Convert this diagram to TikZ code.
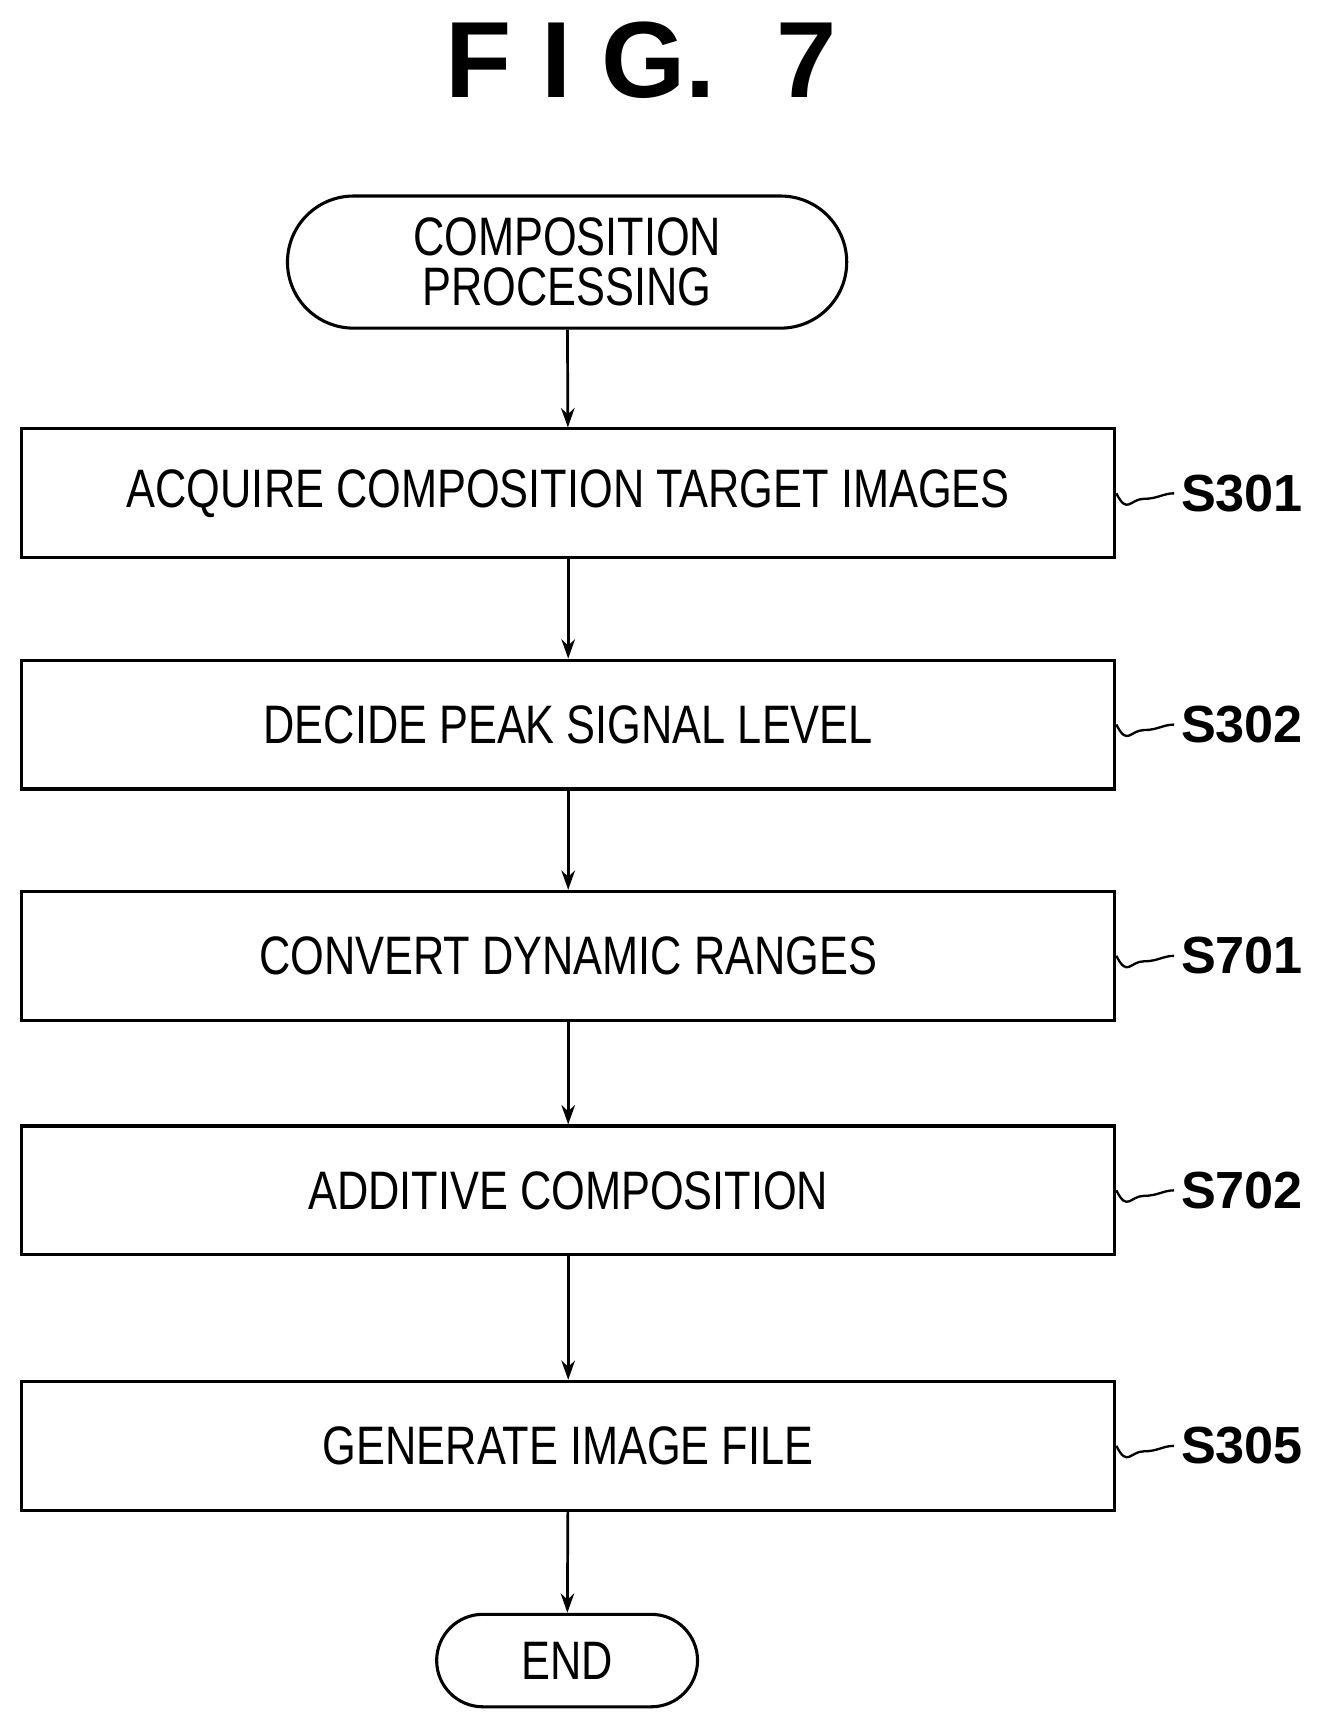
\documentclass[tikz,border=0pt]{standalone}
\usepackage{fontspec}
\setmainfont{Liberation Sans}
\newfontfamily\condfont[FakeStretch=0.8]{Liberation Sans}
\usetikzlibrary{positioning,arrows.meta,shapes.misc}

\begin{document}
\begin{tikzpicture}[
    x=0.02cm, y=-0.02cm,
    stepbox/.style={
    	draw, line width=1.6pt,
    	minimum width=19.86cm,
    	minimum height=2.34cm,
    	inner sep=2pt, align=center,
    	font=\condfont\fontsize{28}{32}\selectfont
    }, term/.style={
    	stepbox, rounded rectangle
    }, pil/.style={
    	-{Stealth[length=10pt,width=7pt]},
    	line width=1.4pt
    }, lbl/.style={
    	font=\bfseries\fontsize{27}{31}\selectfont, anchor=west
    }]
    \useasboundingbox (0,0) rectangle (1200,1562);

    \node[font=\bfseries\fontsize{56}{62}\selectfont] (title) at (582,55) {F I G.\ \ 7};

    %%% steps
    \node[term, minimum width=10.3cm, minimum height=2.4cm] (start) at (515,238) {COMPOSITION\\[-6pt]PROCESSING};
    \node[stepbox] (s301) at (516,448) {ACQUIRE COMPOSITION TARGET IMAGES};
    \node[stepbox] (s302) at (516,658) {DECIDE PEAK SIGNAL LEVEL};
    \node[stepbox] (s701) at (516,868) {CONVERT DYNAMIC RANGES};
    \node[stepbox] (s702) at (516,1081) {ADDITIVE COMPOSITION};
    \node[stepbox] (s305) at (516,1313) {GENERATE IMAGE FILE};
    \node[term, minimum width=4.88cm, minimum height=1.68cm] (end) at (515,1508) {END};

    %%% step labels
    \foreach \s/\t in {s301/S301, s302/S302, s701/S701, s702/S702, s305/S305}{
    	\node[lbl] (lab-\s) at ([xshift=1.05cm]\s.east) {\t};
    	\draw[line width=1.2pt] (\s.east) .. controls +(0.2cm,-0.4cm) and +(-0.25cm,0cm) .. ([xshift=0.5cm,yshift=-0.1cm]\s.east)
    		.. controls +(0.25cm,0cm) and +(-0.2cm,0cm) .. (lab-\s.west);
    }

    %%% EDGES
    \draw[pil] (start) -- (s301);
    \draw[pil] (s301) -- (s302);
    \draw[pil] (s302) -- (s701);
    \draw[pil] (s701) -- (s702);
    \draw[pil] (s702) -- (s305);
    \draw[pil] (s305) -- (end);
\end{tikzpicture}
\end{document}
